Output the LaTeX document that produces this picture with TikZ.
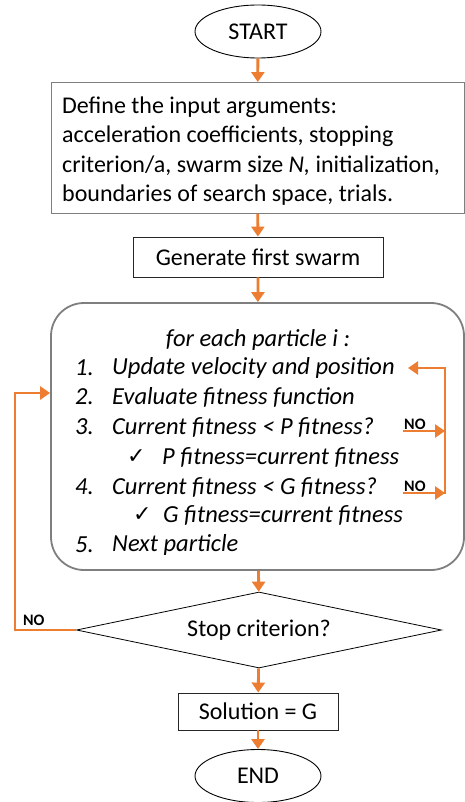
\documentclass[tikz,border=0pt]{standalone}
\usepackage{fontspec}
\setmainfont{Carlito}
\newfontfamily\symfont{DejaVu Sans}
\usetikzlibrary{arrows.meta,shapes.geometric}
\definecolor{flowor}{HTML}{ED7D31}
\definecolor{edge}{HTML}{7F7F7F}
\tikzset{
  every node/.style={font=\fontsize{24}{29.5}\selectfont},
  term/.style={ellipse,draw=black,line width=0.9pt,minimum width=126pt,minimum height=53pt,inner sep=0pt},
  proc/.style={rectangle,draw=black!85,line width=0.9pt,inner sep=0pt},
  flow/.style={flowor,line width=2.8pt,-{Triangle[length=10pt,width=13pt]}},
  nolab/.style={font=\fontsize{16}{16}\selectfont\bfseries,inner sep=1pt,anchor=south west},
  item/.style={anchor=west,inner sep=0pt,font=\fontsize{24.5}{29}\selectfont\itshape}
}

\begin{document}
\begin{tikzpicture}[x=1pt,y=-1pt]
  \useasboundingbox (0,0) rectangle (465,802);
  % main column
  \node[term] (start) at (258,31.5) {START};
  \node[proc,draw=edge,minimum width=413pt,minimum height=131pt] (define) at (257.5,148) {};
  \node[anchor=west,align=left,inner sep=0pt] (args) at (62,151) {Define the input arguments:\\
     acceleration coefficients, stopping\\
     criterion/a, swarm size \textit{N,} initialization,\\
     boundaries of search space, trials.};
  \node[proc,minimum width=250pt,minimum height=40pt] (gen) at (258,257) {Generate first swarm};
  \node[draw=edge,line width=1.8pt,rounded corners=33pt,minimum width=413pt,minimum height=267pt,inner sep=0pt]
     (body) at (257.5,436.5) {};
  \node[diamond,draw=black,line width=0.8pt,aspect=4.8,inner sep=0pt,minimum width=365pt,minimum height=76pt]
     (stop) at (259,630) {Stop criterion?};
  \node[proc,minimum width=160pt,minimum height=37pt] (sol) at (258,711.5) {Solution = G};
  \node[term] (finish) at (258,776) {END};

  % text inside the loop box
  \node[font=\fontsize{24.5}{29}\selectfont\itshape] (head) at (258,340) {for each particle i :};
  \foreach \n/\t/\y in {1/Update velocity and position/368,2/Evaluate fitness function/397,
      3/Current fitness < P fitness?/427,4/Current fitness < G fitness?/487,5/Next particle/545}{
    \node[item] (num\n) at (75,\y) {\n.};
    \node[item] (item\n) at (112,\y) {\t};
  }
  \foreach \c/\x/\t/\y in {P/127/162/457,G/133/163/515}{
    \node[item,font=\symfont\fontsize{22}{22}\selectfont] (tick\c) at (\x,\y) {✓};
    \node[item] (set\c) at (\t,\y) {\c\ fitness=current fitness};
  }

  % straight arrows
  \draw[flow] (start) -- (define);
  \draw[flow] (define) -- (gen);
  \draw[flow] (gen) -- (body);
  \draw[flow] (body) -- (stop);
  \draw[flow] (stop) -- (sol);
  \draw[flow] (sol) -- (finish);

  % NO branches on the right
  \coordinate (jtop) at (445,368);
  \node[nolab] (no3) at (403,431) {NO};
  \node[nolab] (no4) at (403,493) {NO};
  \draw[flow] (no3.south west) -- (no3.south west -| jtop);
  \draw[flow] (no4.south west) -- (no4.south west -| jtop);
  \draw[flow,line cap=rect] (no4.south west -| jtop) -- (jtop) -- (item1.east -| 408,0);

  % back loop on the left
  \coordinate (back) at (15,393);
  \node[nolab] (no0) at (22,627) {NO};
  \draw[flow] (stop.west) -| (back) -- (back -| body.west);
\end{tikzpicture}
\end{document}
